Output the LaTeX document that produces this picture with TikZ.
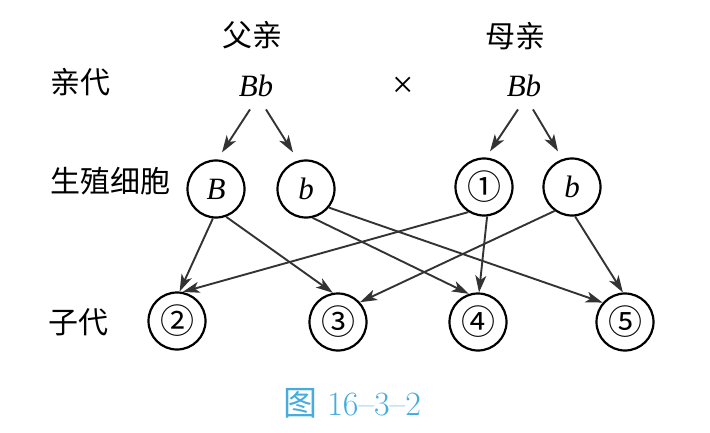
\documentclass[tikz,border=0pt]{standalone}
\usepackage{fontspec}
\usepackage{xcolor}
\usetikzlibrary{arrows.meta}
\newfontfamily\cjk{Noto Sans CJK SC}
\newfontfamily\gen{Liberation Serif}
\definecolor{capblue}{RGB}{70,172,222}

\begin{document}
\begin{tikzpicture}[x=1pt,y=-1pt,
        cell/.style={draw,circle,line width=2.2pt,minimum size=57pt,inner sep=0pt},
        lab/.style={font=\cjk\fontsize{30}{32}\selectfont},
        gene/.style={font=\gen\fontsize{31}{33}\selectfont\itshape},
        num/.style={font=\cjk\fontsize{34}{36}\selectfont},
        arr/.style={-{Stealth[length=17pt,width=11pt,inset=4.5pt]},line width=1.9pt,draw=black!80}]
            \useasboundingbox (0,0) rectangle (710,433);
            % labels on the left and on top
            \node[lab] (Fa) at (252,35) {父亲};
            \node[lab] (Mo) at (515,36) {母亲};
            \node[lab] (Pa) at (80,82) {亲代};
            \node[lab] (Ga) at (110,181) {生殖细胞};
            \node[lab] (Ch) at (78,322) {子代};
            % parents
            \node[gene] (Pl) at (256,86) {Bb};
            \node[font=\gen\fontsize{38}{40}\selectfont] (X) at (403,87) {×};
            \node[gene] (Pr) at (524,86) {Bb};
            % gametes
            \node[cell,gene] (gB) at (216,189) {B};
            \node[cell,gene] (gb) at (306,189) {b};
            \node[cell,num] (g1) at (484,187) {①};
            \node[cell,gene] (gbb) at (572,187) {b};
            % offspring
            \node[cell,num] (c2) at (177,321) {②};
            \node[cell,num] (c3) at (338,322) {③};
            \node[cell,num] (c4) at (478,322) {④};
            \node[cell,num] (c5) at (625,322) {⑤};
            % parents to gametes
            \draw[arr] ([xshift=-6pt,yshift=-9pt]Pl.south) -- ([xshift=6pt,yshift=7pt]gB.north);
            \draw[arr] ([xshift=10pt,yshift=-9pt]Pl.south) -- ([xshift=-13pt,yshift=7pt]gb.north);
            \draw[arr] ([xshift=-6pt,yshift=-9pt]Pr.south) -- ([xshift=6pt,yshift=6pt]g1.north);
            \draw[arr] ([xshift=9pt,yshift=-9pt]Pr.south) -- ([xshift=-14pt,yshift=6pt]gbb.north);
            % gametes to offspring
            \draw[arr] (gB.264) -- (c2.85);
            \draw[arr] (gB.290) -- (c3.100);
            \draw[arr] (gb.283) -- (c4.108);
            \draw[arr] (gb.321) -- (c5.139);
            \draw[arr] (g1.238) -- (c2.79);
            \draw[arr] (g1.276) -- (c4.88);
            \draw[arr] (gbb.234) -- (c3.42);
            \draw[arr] (gbb.276) -- (c5.94);
            % caption
            \node[text=capblue,font=\fontsize{34}{36}\selectfont] (Cap) at (352,403) {{\cjk 图} 16--3--2};
        \end{tikzpicture}
\end{document}
